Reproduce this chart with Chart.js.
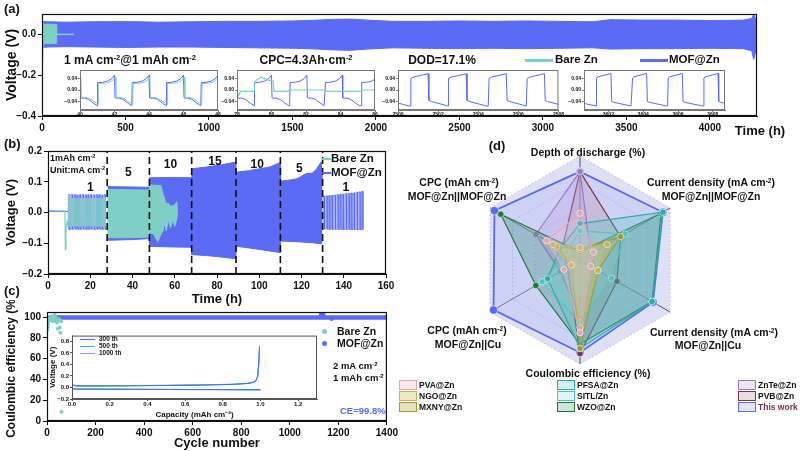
<!DOCTYPE html>
<html>
<head>
<meta charset="utf-8">
<title>MOF@Zn vs Bare Zn</title>
<script src="https://cdn.jsdelivr.net/npm/chart.js@4.4.1/dist/chart.umd.min.js"></script>
<style>
  body { margin: 0; background: #fff; }
  #fig { position: relative; width: 800px; height: 451px; overflow: hidden; background: #fff;
         font-family: "Liberation Sans", Arial, sans-serif; font-weight: bold; color: #111; }
  #fig canvas { position: absolute; }
  .t { position: absolute; white-space: nowrap; line-height: 1; }
  .t sup { font-size: 0.62em; vertical-align: 0.5em; line-height: 0; }
  .sw { position: absolute; box-sizing: border-box; }
</style>
</head>
<body>
<div id="fig">
  <canvas id="cA" width="800" height="140" style="left:0;top:0"></canvas>
  <canvas id="cB" width="400" height="171" style="left:0;top:140px"></canvas>
  <canvas id="cC" width="400" height="155" style="left:0;top:300px"></canvas>
  <canvas id="cA1" width="160" height="54" style="left:62px;top:66px"></canvas>
  <canvas id="cA2" width="160" height="54" style="left:219px;top:66px"></canvas>
  <canvas id="cA3" width="184" height="54" style="left:380px;top:66px"></canvas>
  <canvas id="cA4" width="163" height="54" style="left:566px;top:66px"></canvas>
  <canvas id="cC1" width="276" height="93" style="left:44px;top:331px"></canvas>
  <canvas id="cD" width="400" height="250" style="left:400px;top:130px"></canvas>
</div>
<script>
// ---------- data ----------
// (a) long-term cycling, envelope of the voltage band
var aTime = [0, 30, 150, 300, 500, 700, 900, 1100, 1300, 1500, 1650, 1750, 1850, 1950, 2100, 2300, 2500, 2700, 2900, 3100, 3300, 3400, 3600, 3800, 4000, 4200, 4250, 4262, 4282];
var aMofHi = [0.064, 0.062, 0.06, 0.062, 0.063, 0.06, 0.062, 0.064, 0.064, 0.066, 0.07, 0.074, 0.075, 0.07, 0.064, 0.064, 0.066, 0.064, 0.066, 0.064, 0.062, 0.072, 0.07, 0.07, 0.068, 0.07, 0.078, 0.098, 0.06];
var aMofLo = [-0.064, -0.062, -0.06, -0.062, -0.064, -0.062, -0.062, -0.064, -0.066, -0.068, -0.072, -0.076, -0.078, -0.072, -0.066, -0.068, -0.07, -0.068, -0.07, -0.068, -0.066, -0.072, -0.07, -0.07, -0.068, -0.07, -0.08, -0.122, -0.06];
var aBareTime = [4, 6, 10, 30, 60, 85, 88];
var aBareHi = [0.07, 0.055, 0.048, 0.05, 0.05, 0.048, 0.0];
var aBareLo = [-0.13, -0.06, -0.045, -0.045, -0.045, -0.045, 0.0];
var aBareTailT = [88, 192];
var aBareTailV = [0.0, 0.0];
var aXTicks = [0, 500, 1000, 1500, 2000, 2500, 3000, 3500, 4000];
var aYTicks = [-0.4, -0.2, 0.0];

// (a) insets: one charge/discharge cycle shape, repeated at the cycle start times
var in1Off = [0, 0.03, 0.3, 0.6, 0.85, 1.0, 1.03, 1.12, 1.25, 1.5, 1.75, 2.0];
var in1Mof = [-0.055, 0.026, 0.027, 0.031, 0.04, 0.052, -0.027, -0.029, -0.028, -0.033, -0.045, -0.055];
var in1Bare = [-0.05, 0.022, 0.023, 0.026, 0.034, 0.045, -0.024, -0.026, -0.025, -0.03, -0.04, -0.05];
var in1MofStart = [39, 41, 43, 45, 47];
var in1BareStart = [39.05, 41.05, 43.05, 45.05, 47.05];
var in2MofStart = [77, 79, 81.05, 83.1, 85.2];
var in2BareT = [78, 78.1, 78.2, 78.4, 79.0, 79.05, 79.2, 79.4, 79.6, 79.8, 80.0, 80.1, 80.15, 81.0, 81.02, 83.1, 83.12, 85.2, 85.22, 86];
var in2BareV = [-0.005, -0.02, -0.005, -0.005, -0.005, 0.03, 0.038, 0.045, 0.04, 0.034, 0.034, 0.03, -0.005, -0.005, 0.0, 0.0, -0.005, -0.005, 0.0, 0.0];
var in3Off = [0, 0.04, 0.15, 0.9, 0.94, 1.05, 1.9];
var in3Mof = [-0.056, 0.04, 0.045, 0.057, -0.036, -0.04, -0.056];
var in3Start = [2498.65, 2500.6, 2502.5, 2504.5, 2506.4];
var in4Off = [0, 0.04, 0.12, 0.85, 0.89, 1.0, 2.0];
var in4Mof = [-0.056, 0.042, 0.046, 0.058, -0.04, -0.043, -0.056];
var in4Start = [3599.3, 3601.3, 3603.35, 3605.4, 3607.45];
var inYTicks = [-0.04, 0.0, 0.04];

// (b) rate performance
var bBareStartT = [0, 8.0, 8.2, 8.5, 9.0, 9.6];
var bBareStartV = [0.006, 0.005, -0.12, -0.06, -0.03, -0.045];
var bMofStartT = [0, 9.6];
var bMofStartV = [0.003, 0.003];
var bCyc1 = [9.6, 10.9, 12.2, 13.5, 14.8, 16.1, 17.4, 18.7, 20.0, 21.3, 22.6, 23.9, 25.2, 26.5];
var bCyc1BareHi = [0.055, 0.046, 0.046, 0.045, 0.046, 0.045, 0.046, 0.045, 0.045, 0.046, 0.045, 0.046, 0.045, 0.046];
var bCyc1BareLo = [-0.045, -0.044, -0.045, -0.044, -0.045, -0.044, -0.045, -0.044, -0.045, -0.044, -0.045, -0.044, -0.045, -0.044];
var bCyc1MofHi = [0.058, 0.058, 0.058, 0.057, 0.058, 0.058, 0.057, 0.058, 0.058, 0.057, 0.058, 0.058, 0.057, 0.058];
var bCyc1MofLo = [-0.055, -0.055, -0.054, -0.055, -0.055, -0.054, -0.055, -0.055, -0.054, -0.055, -0.055, -0.054, -0.055, -0.055];
var bCyc2 = [130.2, 131.5, 132.8, 134.1, 135.4, 136.7, 138.0, 139.3, 140.6, 141.9, 143.2, 144.5, 145.8, 147.1, 148.4];
var bCyc2MofHi = [0.053, 0.054, 0.055, 0.056, 0.057, 0.058, 0.059, 0.06, 0.061, 0.062, 0.063, 0.064, 0.066, 0.067, 0.069];
var bCyc2MofLo = [-0.054, -0.054, -0.055, -0.055, -0.055, -0.055, -0.055, -0.056, -0.055, -0.055, -0.056, -0.055, -0.056, -0.056, -0.056];
var bMofBandT = [28.2, 30, 40, 47.9, 48.1, 58, 67.9, 68.1, 75, 82, 88.9, 89.1, 95, 100, 105, 109.9, 110.1, 115, 118, 120, 122, 125, 127, 129.3, 129.9];
var bMofBandHi = [0.085, 0.084, 0.083, 0.082, 0.113, 0.114, 0.113, 0.142, 0.148, 0.155, 0.164, 0.131, 0.136, 0.142, 0.148, 0.162, 0.102, 0.106, 0.11, 0.118, 0.126, 0.128, 0.14, 0.165, 0.105];
var bMofBandLo = [-0.09, -0.09, -0.088, -0.085, -0.11, -0.112, -0.113, -0.137, -0.14, -0.145, -0.15, -0.11, -0.115, -0.12, -0.125, -0.13, -0.093, -0.094, -0.095, -0.096, -0.097, -0.098, -0.1, -0.102, -0.1];
var bBareBandT = [28.2, 38, 47.9, 48.1, 50, 52, 53.5, 54.5, 55, 56, 57, 58, 59, 60, 61, 61.3];
var bBareBandHi = [0.075, 0.074, 0.073, 0.09, 0.089, 0.088, 0.087, 0.06, 0.05, 0.028, 0.03, 0.02, 0.022, 0.025, 0.035, 0.0];
var bBareBandLo = [-0.082, -0.082, -0.08, -0.065, -0.07, -0.095, -0.07, -0.06, -0.035, -0.06, -0.025, -0.05, -0.025, -0.045, -0.02, 0.0];
var bSteps = [28, 48, 68, 89, 110, 130];
var bRateText = ["1", "5", "10", "15", "10", "5", "1"];
var bRateX = [20, 38, 58, 79, 99, 119, 141];
var bRateY = [0.08, 0.13, 0.156, 0.166, 0.156, 0.143, 0.08];
var bXTicks = [0, 20, 40, 60, 80, 100, 120, 140, 160];
var bYTicks = [-0.2, -0.1, 0.0, 0.1, 0.2];

// (c) Coulombic efficiency
var cBareCyc = [1, 3, 5, 8, 10, 12, 15, 18, 20, 22, 25, 28, 30, 32, 35, 38, 40, 42, 45, 48, 50, 52, 55, 58, 60];
var cBareCE = [88, 92, 96, 98, 99, 97, 100, 101, 99, 97, 96, 98, 101, 102, 100, 97, 96, 95, 89, 97, 98, 90, 85, 96, 9];
var cMofCyc = [4, 8, 15, 30, 60, 100, 200, 300, 400, 500, 600, 700, 800, 900, 1000, 1100, 1200, 1300, 1400];
var cMofCE = [99.3, 99.6, 99.7, 99.8, 99.8, 99.8, 99.8, 99.8, 99.8, 99.8, 99.8, 99.8, 99.8, 99.8, 99.8, 99.8, 99.8, 99.8, 99.8];
var cMofOddCyc = [0, 1, 2, 3, 1128, 1134, 1140, 1172];
var cMofOddCE = [88, 91, 95, 97, 102.5, 103, 102, 98.3];
var cXTicks = [0, 200, 400, 600, 800, 1000, 1200, 1400];
var cYTicks = [0, 20, 40, 60, 80, 100];
// (c) inset: voltage profiles
var ciCapUp = [0, 0.02, 0.1, 0.3, 0.5, 0.7, 0.85, 0.93, 0.96, 0.975, 0.985, 0.99, 0.995];
var ci300Up = [0.04, 0.025, 0.024, 0.028, 0.034, 0.042, 0.052, 0.068, 0.085, 0.11, 0.19, 0.38, 0.72];
var ci500Up = [0.045, 0.03, 0.028, 0.031, 0.036, 0.044, 0.054, 0.07, 0.088, 0.115, 0.18, 0.34, 0.62];
var ci1000Up = [0.05, 0.032, 0.03, 0.033, 0.038, 0.046, 0.057, 0.073, 0.092, 0.12, 0.2, 0.36, 0.7];
var ciCapDn = [0, 0.02, 0.5, 1.0];
var ci300Dn = [-0.02, -0.028, -0.034, -0.04];
var ci500Dn = [-0.022, -0.03, -0.036, -0.042];
var ci1000Dn = [-0.018, -0.026, -0.032, -0.038];
var ciXTicks = [0, 0.2, 0.4, 0.6, 0.8, 1.0, 1.2];
var ciYTicks = [-0.2, 0.0, 0.2, 0.4, 0.6, 0.8];

// (d) radar, axes clockwise from top, values normalised 0..1
var dAxes = ["Depth of discharge (%)", "Current density MOF@Zn||MOF@Zn", "Current density MOF@Zn||Cu",
             "Coulombic efficiency (%)", "CPC MOF@Zn||Cu", "CPC MOF@Zn||MOF@Zn"];
var dNames = ["PVA@Zn", "NGO@Zn", "MXNY@Zn", "PFSA@Zn", "SITL/Zn", "WZO@Zn", "ZnTe@Zn", "PVB@Zn", "This work"];
var dPVA  = [0.45, 0.15, 0.12, 0.7, 0.18, 0.37];
var dNGO  = [0.12, 0.3, 0.2, 0.65, 0.1, 0.3];
var dMXNY = [0.1, 0.45, 0.2, 0.85, 0.09, 0.26];
var dPFSA = [0.35, 0.92, 0.8, 0.85, 0.36, 0.22];
var dSITL = [0.28, 0.5, 0.35, 0.6, 0.42, 0.15];
var dWZO  = [0.08, 0.9, 0.8, 0.81, 0.49, 0.88];
var dZnTe = [0.85, 0.12, 0.18, 0.55, 0.22, 0.49];
var dPVB  = [0.85, 0.45, 0.41, 0.9, 0.14, 0.2];
var dThis = [0.85, 0.92, 0.81, 0.89, 0.96, 0.95];

// ---------- helpers ----------
var BLUE = "#5b6bf3";
var TEAL = "#7fd0c4";

Chart.defaults.font.family = '"Liberation Sans", Arial, sans-serif';
Chart.defaults.font.weight = "bold";
Chart.defaults.color = "#111";
Chart.defaults.animation = false;
Chart.defaults.plugins.legend.display = false;
Chart.defaults.plugins.tooltip.enabled = false;
Chart.defaults.elements.point.radius = 0;
Chart.defaults.elements.line.borderWidth = 1;

Chart.register({
  id: "frame",
  beforeDatasetsDraw: function (chart, args, o) {
    if (!o || !o.bg) return;
    var a = chart.chartArea, ctx = chart.ctx;
    ctx.save();
    ctx.fillStyle = o.bg;
    ctx.fillRect(a.left, a.top, a.width, a.height);
    ctx.restore();
  },
  afterDatasetsDraw: function (chart, args, o) {
    if (!o || !o.color) return;
    var a = chart.chartArea, ctx = chart.ctx;
    ctx.save();
    ctx.strokeStyle = o.color;
    ctx.lineWidth = o.width || 1;
    ctx.strokeRect(a.left + 0.5, a.top + 0.5, a.width - 1, a.height - 1);
    ctx.restore();
  }
});

function pts(xs, ys) {
  return xs.map(function (x, i) { return { x: x, y: ys[i] }; });
}
function repeatShape(starts, offs, vals) {
  var out = [];
  starts.forEach(function (t0) {
    offs.forEach(function (o, i) { out.push({ x: t0 + o, y: vals[i] }); });
  });
  return out;
}
function squareCycles(starts, hi, lo) {
  var out = [];
  starts.forEach(function (t, i) {
    out.push({ x: t, y: lo[i] });
    out.push({ x: t + 0.05, y: hi[i] });
    out.push({ x: t + 0.62, y: hi[i] });
    out.push({ x: t + 0.67, y: lo[i] });
  });
  return out;
}
function num(v, dec) {
  return (v < -1e-9 ? "\u2212" : "") + Math.abs(v).toFixed(dec);
}
function axis(o) {
  var tc = o.col || "#111";
  return {
    type: "linear", position: o.pos, min: o.min, max: o.max,
    afterFit: function (s) { if (o.pos === "left") s.width = o.size; else s.height = o.size; },
    afterBuildTicks: function (s) { s.ticks = o.ticks.map(function (v) { return { value: v }; }); },
    ticks: { font: { size: o.fs }, padding: o.pad == null ? 2 : o.pad, maxRotation: 0, autoSkip: false,
             color: "#111", callback: function (v) { return num(v, o.dec); } },
    grid: { drawOnChartArea: false, tickLength: o.tl || 4, color: tc, lineWidth: 1 },
    border: { color: tc, width: 1 },
    title: o.title ? { display: true, text: o.title, font: { size: o.tfs }, padding: { top: 4, bottom: 4 }, color: "#111" }
                   : { display: false }
  };
}
function line(data, color, extra) {
  var d = { data: data, borderColor: color, backgroundColor: color, pointRadius: 0, borderWidth: 1, fill: false };
  for (var k in extra) d[k] = extra[k];
  return d;
}

// ---------- (a) main ----------
new Chart(document.getElementById("cA"), {
  type: "line",
  data: { datasets: [
    line(pts(aBareTime, aBareHi), TEAL, { fill: "+1" }),
    line(pts(aBareTime, aBareLo), TEAL),
    line(pts(aBareTailT, aBareTailV), TEAL, { borderWidth: 1.5 }),
    line(pts(aTime, aMofHi), BLUE, { fill: "+1" }),
    line(pts(aTime, aMofLo), BLUE)
  ]},
  options: {
    responsive: false,
    layout: { padding: { top: 14, right: 43, left: 0, bottom: 0 } },
    scales: {
      x: axis({ pos: "bottom", min: 0, max: 4282, ticks: aXTicks, size: 24, fs: 10, dec: 0 }),
      y: axis({ pos: "left", min: -0.4, max: 0.1, ticks: aYTicks, size: 42, fs: 10, dec: 1, title: "Voltage (V)", tfs: 14 })
    },
    plugins: { frame: { color: "#111", width: 1.2 } }
  }
});

function inset(id, xmin, xmax, xt, xdec, datasets, yw) {
  return new Chart(document.getElementById(id), {
    type: "line",
    data: { datasets: datasets },
    options: {
      responsive: false,
      layout: { padding: { top: 2, right: 4, left: 0, bottom: 0 } },
      scales: {
        x: axis({ pos: "bottom", min: xmin, max: xmax, ticks: xt, size: 10, fs: 5, dec: xdec, tl: 2, pad: 0, col: "#777" }),
        y: axis({ pos: "left", min: -0.07, max: 0.07, ticks: inYTicks, size: yw, fs: 5, dec: 2, tl: 2, pad: 1, col: "#777" })
      },
      plugins: { frame: { color: "#777", width: 1, bg: "#fff" } }
    }
  });
}
inset("cA1", 40, 48, [40, 42, 44, 46, 48], 0, [
  line(repeatShape(in1BareStart, in1Off, in1Bare), TEAL),
  line(repeatShape(in1MofStart, in1Off, in1Mof), BLUE)
], 18);
inset("cA2", 78, 86, [78, 80, 82, 84, 86], 0, [
  line(pts(in2BareT, in2BareV), TEAL, { borderWidth: 1.2 }),
  line(repeatShape(in2MofStart, in1Off, in1Mof), BLUE)
], 18);
inset("cA3", 2500, 2508, [2500, 2502, 2504, 2506, 2508], 0, [
  line(repeatShape(in3Start, in3Off, in3Mof), BLUE)
], 18);
inset("cA4", 3600.6, 3608.7, [3602, 3604, 3606, 3608], 0, [
  line(repeatShape(in4Start, in4Off, in4Mof), BLUE)
], 18);

// ---------- (b) ----------
var stepSets = bSteps.map(function (t) {
  return line([{ x: t, y: -0.2 }, { x: t, y: 0.2 }], "#111", { borderWidth: 1.6, borderDash: [7, 4] });
});
new Chart(document.getElementById("cB"), {
  type: "line",
  data: { datasets: stepSets.concat([
    line(squareCycles(bCyc1, bCyc1BareHi, bCyc1BareLo), TEAL, { borderWidth: 0.8 }),
    line(pts(bBareBandT, bBareBandHi), TEAL, { fill: "+1" }),
    line(pts(bBareBandT, bBareBandLo), TEAL),
    line(pts(bBareStartT, bBareStartV), TEAL, { borderWidth: 1.2 }),
    line(squareCycles(bCyc1, bCyc1MofHi, bCyc1MofLo), BLUE, { borderWidth: 0.8 }),
    line(squareCycles(bCyc2, bCyc2MofHi, bCyc2MofLo), BLUE, { borderWidth: 0.8 }),
    line(pts(bMofBandT, bMofBandHi), BLUE, { fill: "+1" }),
    line(pts(bMofBandT, bMofBandLo), BLUE),
    line(pts(bMofStartT, bMofStartV), BLUE)
  ])},
  options: {
    responsive: false,
    layout: { padding: { top: 11, right: 14, left: 0, bottom: 0 } },
    scales: {
      x: axis({ pos: "bottom", min: 0, max: 160, ticks: bXTicks, size: 37, fs: 10, dec: 0, title: "Time (h)", tfs: 13 }),
      y: axis({ pos: "left", min: -0.2, max: 0.2, ticks: bYTicks, size: 48, fs: 10, dec: 1, title: "Voltage (V)", tfs: 13 })
    },
    plugins: { frame: { color: "#111", width: 1.2 } }
  },
  plugins: [{
    id: "rates",
    afterDatasetsDraw: function (chart) {
      var ctx = chart.ctx, sx = chart.scales.x, sy = chart.scales.y;
      ctx.save();
      ctx.font = 'bold 12px "Liberation Sans", Arial, sans-serif';
      ctx.fillStyle = "#111";
      ctx.textAlign = "center";
      ctx.textBaseline = "middle";
      bRateText.forEach(function (s, i) {
        ctx.fillText(s, sx.getPixelForValue(bRateX[i]), sy.getPixelForValue(bRateY[i]));
      });
      ctx.restore();
    }
  }]
});

// ---------- (c) ----------
new Chart(document.getElementById("cC"), {
  type: "line",
  data: { datasets: [
    line(pts(cBareCyc, cBareCE), TEAL, { showLine: false, pointRadius: 2, pointBorderWidth: 0 }),
    line(pts(cMofOddCyc, cMofOddCE), BLUE, { showLine: false, pointRadius: 2, pointBorderWidth: 0 }),
    line(pts(cMofCyc, cMofCE), BLUE, { borderWidth: 4.5 })
  ]},
  options: {
    responsive: false,
    layout: { padding: { top: 12, right: 12, left: 0, bottom: 0 } },
    scales: {
      x: axis({ pos: "bottom", min: 0, max: 1400, ticks: cXTicks, size: 34, fs: 10, dec: 0, title: "Cycle number", tfs: 13 }),
      y: axis({ pos: "left", min: 0, max: 105, ticks: cYTicks, size: 47, fs: 10, dec: 0, title: "Coulombic efficiency (%)", tfs: 12 })
    },
    plugins: { frame: { color: "#111", width: 1.2 } }
  }
});

new Chart(document.getElementById("cC1"), {
  type: "line",
  data: { datasets: [
    line(pts(ciCapUp, ci300Up), "#4a72dc"),
    line(pts(ciCapUp, ci500Up), "#35b5b0"),
    line(pts(ciCapUp, ci1000Up), "#8c98f4"),
    line(pts(ciCapDn, ci300Dn), "#4a72dc"),
    line(pts(ciCapDn, ci500Dn), "#35b5b0"),
    line(pts(ciCapDn, ci1000Dn), "#8c98f4")
  ]},
  options: {
    responsive: false,
    layout: { padding: { top: 2, right: 3, left: 0, bottom: 0 } },
    scales: {
      x: axis({ pos: "bottom", min: 0, max: 1.3, ticks: ciXTicks, size: 25, fs: 6, dec: 1, tl: 2, pad: 0, col: "#555",
                title: "Capacity (mAh cm\u207B\u00B2)", tfs: 8 }),
      y: axis({ pos: "left", min: -0.2, max: 0.9, ticks: ciYTicks, size: 28, fs: 6, dec: 1, tl: 2, pad: 1, col: "#555",
                title: "Voltage (V)", tfs: 8 })
    },
    plugins: { frame: { color: "#555", width: 1, bg: "#fff" } }
  }
});

// ---------- (d) radar ----------
var dStyle = [
  ["#e8a6b4", "rgba(240,200,210,0.25)"],
  ["#c2b456", "rgba(215,205,130,0.25)"],
  ["#a39a2e", "rgba(200,190,100,0.3)"],
  ["#22b0a8", "rgba(90,195,190,0.3)"],
  ["#48c8c0", "rgba(140,220,215,0.25)"],
  ["#1f7a3a", "rgba(60,140,120,0.35)"],
  ["#9c78c8", "rgba(185,160,225,0.3)"],
  ["#7a3848", "rgba(175,130,145,0.25)"],
  [BLUE, "rgba(175,182,245,0.35)"]
];
var dValues = [dPVA, dNGO, dMXNY, dPFSA, dSITL, dWZO, dZnTe, dPVB, dThis];
new Chart(document.getElementById("cD"), {
  type: "radar",
  data: {
    labels: dAxes,
    datasets: dValues.map(function (v, i) {
      var last = i === dValues.length - 1;
      return {
        label: dNames[i], data: v, fill: true,
        borderColor: dStyle[i][0], backgroundColor: dStyle[i][1], borderWidth: last ? 1.8 : 1.2,
        pointRadius: last ? 4.2 : 3.2, pointBackgroundColor: dStyle[i][0],
        pointBorderColor: "rgba(255,255,255,0.7)", pointBorderWidth: 0.8
      };
    })
  },
  options: {
    responsive: false,
    layout: { padding: { left: 76, right: 116, top: 26, bottom: 16 } },
    scales: {
      r: {
        min: 0, max: 1,
        ticks: { display: false, stepSize: 0.25 },
        pointLabels: { display: false },
        grid: { color: "rgba(120,120,160,0.45)", lineWidth: 0.8 },
        border: { dash: [2, 2] },
        angleLines: { color: "#555", lineWidth: 1 },
        backgroundColor: "rgba(200,204,240,0.6)"
      }
    },
    plugins: { frame: false }
  }
});

// ---------- text ----------
var fig = document.getElementById("fig");
function txt(html, x, y, size, align, color) {
  var d = document.createElement("div");
  d.className = "t";
  d.innerHTML = html;
  d.style.left = x + "px";
  d.style.top = y + "px";
  d.style.fontSize = size + "px";
  d.style.transform = align === "l" ? "translate(0,-50%)" : "translate(-50%,-50%)";
  if (color) d.style.color = color;
  fig.appendChild(d);
}
function swatch(x, y, w, h, bg, border, radius) {
  var d = document.createElement("div");
  d.className = "sw";
  d.style.left = x + "px"; d.style.top = y + "px";
  d.style.width = w + "px"; d.style.height = h + "px";
  d.style.background = bg;
  if (border) d.style.border = border;
  if (radius) d.style.borderRadius = radius;
  fig.appendChild(d);
}

// panel (a)
txt("(a)", 4, 8, 13, "l");
txt("Time (h)", 760, 130, 13);
txt("1 mA cm<sup>-2</sup>@1 mAh cm<sup>-2</sup>", 130, 60, 12);
txt("CPC=4.3Ah·cm<sup>-2</sup>", 306, 60, 12);
txt("DOD=17.1%", 442, 60, 12);
swatch(525, 59, 28, 3, TEAL);
txt("Bare Zn", 555, 60, 11.5, "l");
swatch(640, 59, 28, 3, BLUE);
txt("MOF@Zn", 669, 60, 11.5, "l");

// panel (b)
txt("(b)", 4, 143, 13, "l");
txt("1mAh cm<sup>-2</sup>", 50, 158, 9, "l");
txt("Unit:mA cm<sup>-2</sup>", 50, 170, 9, "l");
swatch(322, 158, 9, 2, TEAL);
txt("Bare Zn", 331, 159, 11.5, "l");
swatch(322, 172, 9, 2, BLUE);
txt("MOF@Zn", 331, 173, 11.5, "l");

// panel (c)
txt("(c)", 4, 290, 13, "l");
swatch(322, 329, 5, 5, TEAL, null, "50%");
txt("Bare Zn", 337, 331, 10.5, "l");
swatch(322, 341, 5, 5, BLUE, null, "50%");
txt("MOF@Zn", 337, 343, 10.5, "l");
txt("2 mA cm<sup>-2</sup>", 333, 366, 9.5, "l");
txt("1 mAh cm<sup>-2</sup>", 333, 378, 9.5, "l");
txt("CE=99.8%", 340, 411, 9.5, "l", BLUE);
swatch(80, 339, 15, 1.2, "#4a72dc");
txt("300 th", 99, 339, 6.5, "l");
swatch(80, 346, 15, 1.2, "#35b5b0");
txt("500 th", 99, 346, 6.5, "l");
swatch(80, 353, 15, 1.2, "#8c98f4");
txt("1000 th", 99, 353, 6.5, "l");

// panel (d)
txt("(d)", 497, 145, 13);
txt("Depth of discharge (%)", 588, 152, 10.5);
txt("Current density (mA cm<sup>-2</sup>)", 711, 182, 10.5);
txt("MOF@Zn||MOF@Zn", 711, 196, 10.5);
txt("CPC (mAh cm<sup>-2</sup>)", 459, 182, 10.5);
txt("MOF@Zn||MOF@Zn", 457, 196, 10.5);
txt("CPC (mAh cm<sup>-2</sup>)", 467, 330, 10.5);
txt("MOF@Zn||Cu", 468, 344, 10.5);
txt("Current density (mA cm<sup>-2</sup>)", 714, 332, 10.5);
txt("MOF@Zn||Cu", 708, 345, 10.5);
txt("Coulombic efficiency (%)", 588, 373, 10.5);

var legCols = [399, 557, 738];
var legRows = [385, 396, 407];
var legBg = ["#fbe9ec", "#ece8c8", "#e6e2c0", "#d5f0ec", "#e0f5f3", "#cfe3dc", "#eee4f6", "#e8dde0", "#e2e5fb"];
dNames.forEach(function (n, i) {
  var col = Math.floor(i / 3), row = i % 3;
  swatch(legCols[col], legRows[row] - 5, 18, 10, legBg[i], "1.5px solid " + dStyle[i][0]);
  txt(n, legCols[col] + 20, legRows[row], 8.5, "l", i === 8 ? "#7a3050" : null);
});
</script>
</body>
</html>
